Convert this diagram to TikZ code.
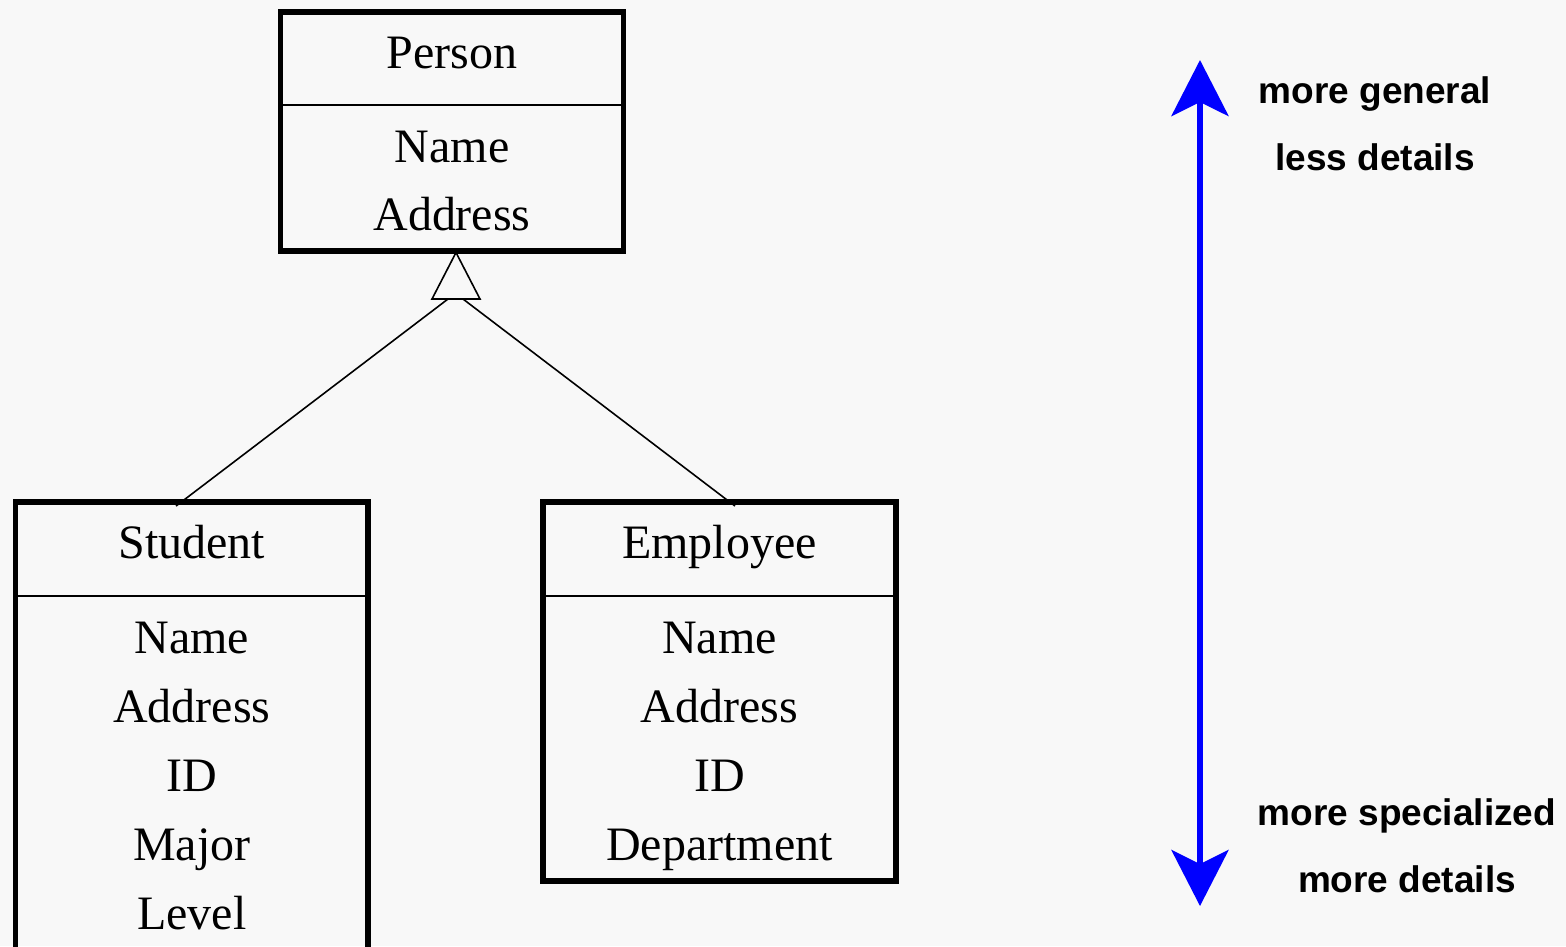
\documentclass[tikz,border=0pt]{standalone}
\usepackage{fontspec}
\setmainfont{Liberation Serif}
\newfontfamily\labelfont{Liberation Sans}
\usepackage{xcolor}
\usepackage{tikz}
\usetikzlibrary{arrows.meta,positioning,fit}
\definecolor{paper}{RGB}{248,248,248}
\definecolor{arrowblue}{RGB}{0,0,255}

\begin{document}
\begin{tikzpicture}[x=0.25pt, y=-0.25pt, >={Stealth[length=14pt,width=14.25pt,inset=3.5pt]}]
\tikzstyle{classbox} = [draw, line width=1.35pt, inner sep=0pt]
\tikzstyle{divider} = [line width=0.5pt]
\tikzstyle{attr} = [anchor=base, inner sep=0pt, font=\fontsize{12}{14}\selectfont]
\tikzstyle{hint} = [anchor=base, inner sep=0pt, font=\labelfont\bfseries\fontsize{9.25}{11}\selectfont]
\tikzstyle{link} = [line width=0.4pt]
\useasboundingbox (0,0) rectangle (1566,946);
\fill[paper] (0,0) rectangle (1566,946);
\clip (0,0) rectangle (1566,946);

% classes
\node[classbox, fit={(280.5,12) (623.5,251)}] (person) {};
\node[classbox, fit={(15.5,502) (368,990)}] (student) {};
\node[classbox, fit={(543,502) (896,881)}] (employee) {};
\draw[divider] (280.5,105) -- (623.5,105);
\draw[divider] (15.5,596) -- (368,596);
\draw[divider] (543,596) -- (896,596);

\node[attr] (person-title) at (452,68) {Person};
\foreach \txt [count=\i] in {Name,Address}
  \node[attr] (person-\i) at (452,94.5+68*\i) {\txt};
\node[attr] (student-title) at (191.75,558) {Student};
\foreach \txt [count=\i] in {Name,Address,ID,Major,Level}
  \node[attr] (student-\i) at (191.75,584+69*\i) {\txt};
\node[attr] (employee-title) at (719.5,558) {Employee};
\foreach \txt [count=\i] in {Name,Address,ID,Department}
  \node[attr] (employee-\i) at (719.5,584+69*\i) {\txt};

% generalization
\coordinate (apex) at (456,252.5);
\coordinate (base-l) at (448,299);
\coordinate (base-r) at (463,299);
\coordinate (student-in) at (176,506);
\coordinate (employee-in) at (735,506);
\draw[link] (apex) -- (432,299) -- (480,299) -- cycle;
\draw[link] (base-l) -- (student-in);
\draw[link] (base-r) -- (employee-in);

% direction
\coordinate (up) at (1200,60);
\coordinate (down) at (1200,906);
\draw[<->, arrowblue, line width=1.5pt] (up) -- (down);
\node[hint] (general) at (1375,103) {more general};
\node[hint] (fewer) at ([yshift=-16.75pt]general.base) {less details};
\node[hint] (special) at (1407,825) {more specialized};
\node[hint] (detail) at ([yshift=-16.75pt]special.base) {more details};
\end{tikzpicture}
\end{document}
